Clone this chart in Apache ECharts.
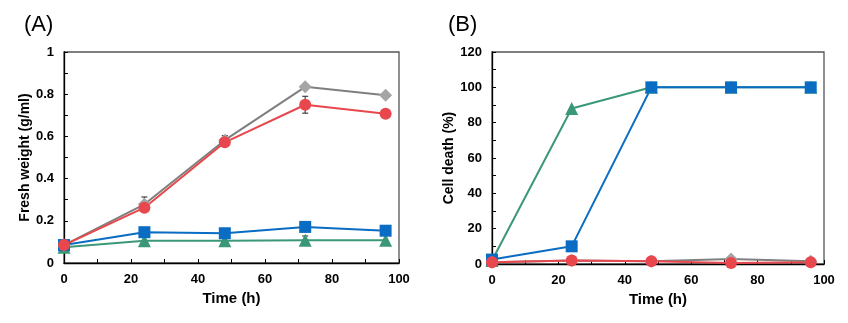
<!DOCTYPE html>
<html><head><meta charset="utf-8">
<script src="https://cdn.jsdelivr.net/npm/echarts@6/dist/echarts.min.js"></script>
<style>html,body{margin:0;padding:0;background:#fff}#c{width:848px;height:323px}</style>
</head><body><div id="c"></div>
<script>
const times = [0, 24, 48, 72, 96];
// Panel A: fresh weight (g/ml)
const fwGray  = [0.085, 0.278, 0.582, 0.835, 0.795];
const fwRed   = [0.085, 0.262, 0.572, 0.750, 0.707];
const fwBlue  = [0.085, 0.146, 0.141, 0.171, 0.153];
const fwGreen = [0.075, 0.106, 0.106, 0.108, 0.108];
// error bars (sd) for panel A
const fwGrayErr  = [0, 0.035, 0.022, 0, 0];
const fwRedErr   = [0, 0, 0, 0.040, 0];
const fwBlueErr  = [0, 0, 0, 0, 0.012];
const fwGreenErr = [0, 0, 0, 0.020, 0];
// Panel B: cell death (%)
const cdGray  = [1.0, 2.0, 1.5, 2.8, 1.5];
const cdRed   = [1.0, 2.0, 1.5, 0.5, 1.0];
const cdBlue  = [2.5, 10, 100, 100, 100];
const cdGreen = [2.0, 88, 100, 100, 100];

const C = {gray:'#7f7f7f', grayFill:'#a5a5a5', red:'#e8474d', blue:'#0a6cc2', green:'#3a9877'};
const pairs = v => times.map((t,i)=>[t, v[i]]);

function errSeries(xi, yi, vals, errs, color){
  const data = [];
  times.forEach((t,i)=>{ if(errs[i]>0) data.push([t, vals[i]-errs[i], vals[i]+errs[i]]); });
  return {
    type:'custom', xAxisIndex:xi, yAxisIndex:yi, z:1, silent:true,
    data,
    renderItem:(p, api)=>{
      const lo = api.coord([api.value(0), api.value(1)]);
      const hi = api.coord([api.value(0), api.value(2)]);
      const w = 3;
      const st = {stroke:color, lineWidth:1.2};
      return {type:'group', children:[
        {type:'line', shape:{x1:lo[0],y1:lo[1],x2:hi[0],y2:hi[1]}, style:st},
        {type:'line', shape:{x1:lo[0]-w,y1:lo[1],x2:lo[0]+w,y2:lo[1]}, style:st},
        {type:'line', shape:{x1:hi[0]-w,y1:hi[1],x2:hi[0]+w,y2:hi[1]}, style:st}
      ]};
    }
  };
}
function lineS(xi, yi, vals, color, symbol, size, fill){
  return {type:'line', xAxisIndex:xi, yAxisIndex:yi, data:pairs(vals), symbol, symbolSize:size,
    showAllSymbol:true, z:3,
    lineStyle:{color, width:2}, itemStyle:{color:fill||color, borderWidth:0}};
}

const font = 'Arial, "Liberation Sans", sans-serif';
const axisLbl = {color:'#000', fontFamily:font, fontSize:13, fontWeight:'bold', margin:10};
function xAx(gi){
  return {type:'value', gridIndex:gi, min:0, max:100, interval:20,
    name:'Time (h)', nameLocation:'middle', nameGap:26,
    nameTextStyle:{color:'#000', fontFamily:font, fontSize:15, fontWeight:'bold'},
    axisLine:{show:true, onZero:false, lineStyle:{color:'#000', width:1.3}},
    axisTick:{show:true, inside:true, length:4, lineStyle:{color:'#000'}},
    minorTick:{show:true, splitNumber:2, length:4, lineStyle:{color:'#000'}},
    axisLabel:axisLbl, splitLine:{show:false}};
}
function yAx(gi, max, interval, name, fmt, gap){
  return {type:'value', gridIndex:gi, min:0, max, interval,
    name, nameLocation:'middle', nameGap:gap,
    nameTextStyle:{color:'#000', fontFamily:font, fontSize:14, fontWeight:'bold'},
    axisLine:{show:true, onZero:false, lineStyle:{color:'#000', width:1.3}},
    axisTick:{show:true, inside:true, length:4, lineStyle:{color:'#000'}},
    minorTick:{show:true, splitNumber:2, length:4, lineStyle:{color:'#000'}},
    axisLabel:Object.assign({}, axisLbl, {formatter:fmt}), splitLine:{show:false}};
}

const chart = echarts.init(document.getElementById('c'), null, {renderer:'canvas'});
chart.setOption({
  animation:false,
  backgroundColor:'#fff',
  title:[
    {text:'(A)', left:19, top:9, textStyle:{fontFamily:font, fontSize:22, fontWeight:'normal', color:'#000'}},
    {text:'(B)', left:443, top:9, textStyle:{fontFamily:font, fontSize:22, fontWeight:'normal', color:'#000'}}
  ],
  grid:[
    {left:64, right:449, top:52, bottom:60, show:true, borderColor:'#555', borderWidth:1.3, backgroundColor:'transparent'},
    {left:492, right:24, top:52, bottom:59, show:true, borderColor:'#555', borderWidth:1.3, backgroundColor:'transparent'}
  ],
  xAxis:[xAx(0), xAx(1)],
  yAxis:[
    yAx(0, 1, 0.2, 'Fresh weight (g/ml)', v => (v===0||v===1)? String(v) : v.toFixed(1), 32),
    yAx(1, 120, 20, 'Cell death (%)', v => String(v), 36)
  ],
  series:[
    errSeries(0,0,fwGreen,fwGreenErr,'#444'),
    errSeries(0,0,fwBlue,fwBlueErr,'#444'),
    errSeries(0,0,fwGray,fwGrayErr,'#444'),
    errSeries(0,0,fwRed,fwRedErr,'#444'),
    lineS(0,0,fwGreen,C.green,'triangle',13),
    lineS(0,0,fwBlue,C.blue,'rect',12),
    lineS(0,0,fwGray,C.gray,'diamond',13,C.grayFill),
    lineS(0,0,fwRed,C.red,'circle',12),
    lineS(1,1,cdGreen,C.green,'triangle',13),
    lineS(1,1,cdBlue,C.blue,'rect',12),
    lineS(1,1,cdGray,C.gray,'diamond',13,C.grayFill),
    lineS(1,1,cdRed,C.red,'circle',12)
  ]
});
</script></body></html>
